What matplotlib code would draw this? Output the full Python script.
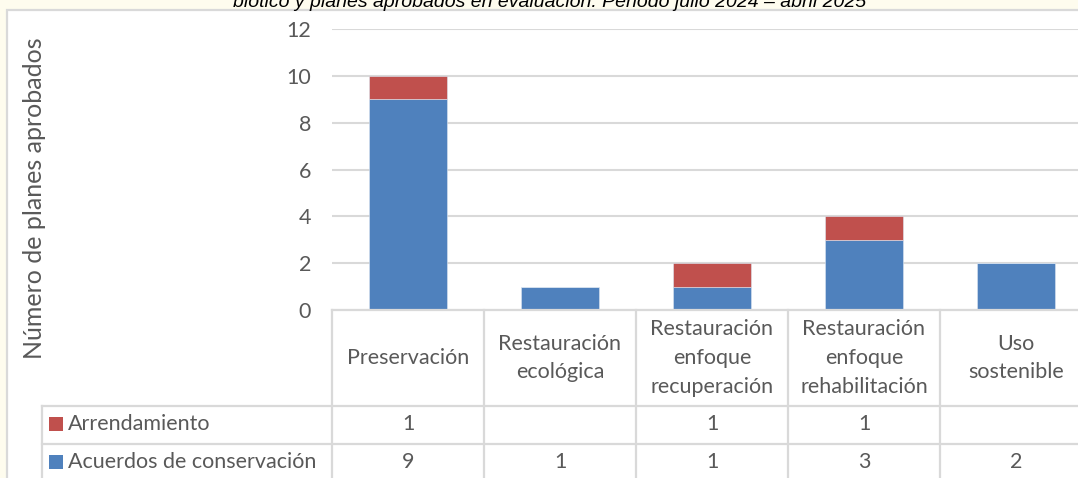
import matplotlib.pyplot as plt
from matplotlib.patches import Rectangle
from matplotlib.lines import Line2D
from matplotlib.transforms import blended_transform_factory

categorias = ["Preservación", "Restauración\necológica", "Restauración\nenfoque\nrecuperación",
              "Restauración\nenfoque\nrehabilitación", "Uso\nsostenible"]
acuerdos = [9, 1, 1, 3, 2]
arrendamiento = [1, 0, 1, 1, 0]
series = ["Arrendamiento", "Acuerdos de conservación"]
titulo = "biotico y planes aprobados en evaluación. Periodo julio 2024 – abril 2025"

AZUL = "#4F81BD"
ROJO = "#C0504D"
GRIS = "#595959"
LINEA = "#D9D9D9"
FUENTE = "Lato"
TAM = 15.5

W, H = 1078, 478


def fx(x):
    return x / W


def fy(y):
    return 1 - y / H


fig = plt.figure(figsize=(W / 100, H / 100), dpi=100, facecolor="#FEFCEE")

# fondo blanco del gráfico
fig.add_artist(Rectangle((fx(7), fy(H + 5)), 1.1, (H - 5) / H, transform=fig.transFigure,
                         facecolor="white", edgecolor=LINEA, lw=1.6, zorder=0))

fig.text(fx(550), fy(7), titulo, ha="center", va="baseline", fontsize=14,
         style="italic", family="Liberation Sans", color="black")

ax = fig.add_axes([fx(332), fy(310), 760 / W, 281 / H])
ax.set_facecolor("none")
x = list(range(len(categorias)))
ax.bar(x, acuerdos, width=0.51, color=AZUL, edgecolor="#DCE6F2", lw=0.4, zorder=3)
ax.bar(x, arrendamiento, width=0.51, bottom=acuerdos, color=ROJO, edgecolor="#DCE6F2",
       lw=0.4, zorder=3)
ax.set_xlim(-0.5, len(categorias) - 0.5)
ax.set_ylim(0, 12)
ax.set_yticks(range(0, 13, 2))
ax.set_xticks([])
ax.yaxis.grid(True, color=LINEA, lw=1.5)
ax.set_axisbelow(True)
for s in ax.spines.values():
    s.set_visible(False)
ax.tick_params(axis="y", length=0, pad=15, labelcolor=GRIS, labelsize=TAM)
for t in ax.get_yticklabels():
    t.set_family(FUENTE)

fig.text(fx(35), fy(198), "Número de planes aprobados", rotation=90, ha="center", va="center",
         fontsize=18, color=GRIS, family=FUENTE)

# tabla de datos bajo el eje
tr = blended_transform_factory(ax.transData, fig.transFigure)
n = len(categorias)
y_top, y_r1, y_r2, y_bot = fy(310), fy(406), fy(444), fy(H + 5)
kw = dict(color=LINEA, lw=1.6, zorder=2)
fig.add_artist(Line2D([-0.5, n - 0.5], [y_top, y_top], transform=tr, **kw))
for i in range(n + 1):
    fig.add_artist(Line2D([i - 0.5, i - 0.5], [y_top, y_bot], transform=tr, **kw))
for yy in (y_r1, y_r2):
    fig.add_artist(Line2D([fx(42), 1.1], [yy, yy], transform=fig.transFigure, **kw))
fig.add_artist(Line2D([fx(42), fx(42)], [y_r1, y_bot], transform=fig.transFigure, **kw))

for i, cat in enumerate(categorias):
    fig.text(i, fy(358), cat, transform=tr, ha="center", va="center", fontsize=TAM,
             color=GRIS, family=FUENTE, linespacing=1.55)

filas = [(series[0], ROJO, arrendamiento, 424), (series[1], AZUL, acuerdos, 462)]
for nombre, color, valores, yc in filas:
    fig.add_artist(Rectangle((fx(49), fy(yc + 7)), 14 / W, 14 / H, transform=fig.transFigure,
                             facecolor=color, edgecolor="none"))
    fig.text(fx(68), fy(yc), nombre, ha="left", va="center", fontsize=TAM, color=GRIS,
             family=FUENTE)
    for i, v in enumerate(valores):
        if v:
            fig.text(i, fy(yc), str(v), transform=tr, ha="center", va="center", fontsize=TAM,
                     color=GRIS, family=FUENTE)

fig.savefig("out.png", dpi=100, facecolor=fig.get_facecolor())
